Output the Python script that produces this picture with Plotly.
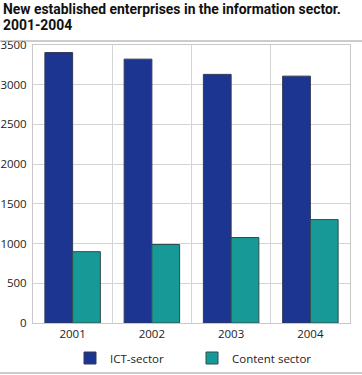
import plotly.graph_objects as go

years = ["2001", "2002", "2003", "2004"]
ict = [3405, 3322, 3130, 3108]
content = [898, 988, 1076, 1302]

font_family = "Open Sans, DejaVu Sans, sans-serif"
title_family = "Roboto, Open Sans, sans-serif"

fig = go.Figure()
fig.add_trace(go.Bar(x=years, y=ict, name="ICT-sector",
                     marker=dict(color="#1b3591", line=dict(color="#333a55", width=1))))
fig.add_trace(go.Bar(x=years, y=content, name="Content sector",
                     marker=dict(color="#179a97", line=dict(color="#2f4d4c", width=1))))

W, H = 362, 375
PW, PH = 317, 278

fig.update_layout(
    width=W, height=H,
    margin=dict(l=33, r=12, t=45, b=52, autoexpand=False),
    paper_bgcolor="white", plot_bgcolor="white",
    font=dict(family=font_family, size=11, color="#222"),
    barmode="group", bargap=0.3, bargroupgap=0,
    showlegend=True,
    legend=dict(orientation="h", xref="container", yref="container",
                x=192/W, xanchor="center", y=1 - 358/H, yanchor="middle",
                bgcolor="rgba(0,0,0,0)", entrywidth=77,
                font=dict(size=11.5, color="#222"), itemwidth=30),
    xaxis=dict(type="category", tickson="boundaries", showgrid=True, gridcolor="#d4d4d4",
               gridwidth=1, showline=True, linecolor="#c8c8c8", mirror=True, ticks="",
               tickfont=dict(size=11.5, color="#222")),
    yaxis=dict(range=[0, 3500], dtick=500, showgrid=True, gridcolor="#d4d4d4", gridwidth=1,
               showline=True, linecolor="#c8c8c8", mirror=True, ticks="", zeroline=False,
               tickfont=dict(size=11.5, color="#222"), ticklabelstandoff=3),
    annotations=[
        dict(text="<b>New established enterprises in the information sector.</b>",
             xref="paper", yref="paper", x=-32/PW, y=1 + 46/PH, xanchor="left", yanchor="top",
             showarrow=False, font=dict(family=title_family, size=13.9, color="#111")),
        dict(text="<b>2001-2004</b>",
             xref="paper", yref="paper", x=-32/PW, y=1 + 30/PH, xanchor="left", yanchor="top",
             showarrow=False, font=dict(family=title_family, size=13.9, color="#111")),
    ],
    shapes=[
        dict(type="line", xref="paper", yref="paper", x0=-33/PW, x1=1 + 12/PW,
             y0=1 + 4/PH, y1=1 + 4/PH, line=dict(color="#9a9a9a", width=1)),
        dict(type="line", xref="paper", yref="paper", x0=-33/PW, x1=1 + 12/PW,
             y0=-50/PH, y1=-50/PH, line=dict(color="#9a9a9a", width=1)),
    ],
)

fig.write_html("out.html", config={"displayModeBar": False},
               post_script="document.body.style.margin='0';")
